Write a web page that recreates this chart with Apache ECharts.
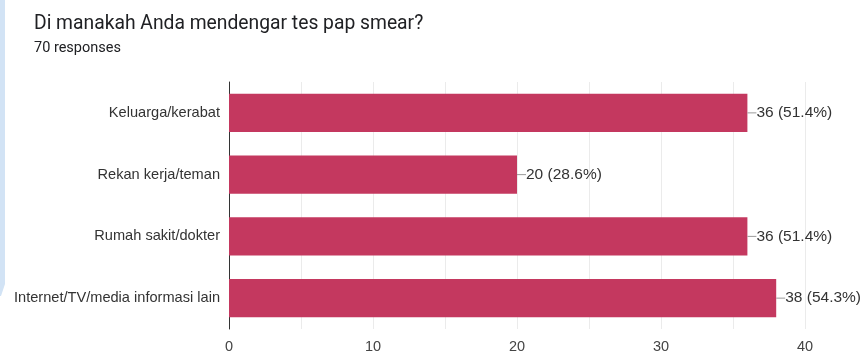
<!DOCTYPE html>
<html>
<head>
<meta charset="utf-8">
<script src="https://cdn.jsdelivr.net/npm/echarts@6/dist/echarts.min.js"></script>
<style>
  html, body { margin: 0; padding: 0; background: #fff; }
  #chart { width: 866px; height: 354px; }
</style>
</head>
<body>
<div id="chart"></div>
<script>
// data
const categories = ['Keluarga/kerabat', 'Rekan kerja/teman', 'Rumah sakit/dokter', 'Internet/TV/media informasi lain']
const counts = [36, 20, 36, 38]
const totalResponses = 70
const xTicks = [0, 10, 20, 30, 40]

const axisFont = '"Liberation Sans", Arial, sans-serif'

const myChart = echarts.init(document.getElementById('chart'))

const option = {
  animation: false,
  textStyle: { fontFamily: axisFont },
  title: {
    text: 'Di manakah Anda mendengar tes pap smear?',
    subtext: totalResponses + ' responses',
    left: 29,
    top: 10,
    itemGap: 7,
    textStyle: { fontSize: 19.3, fontWeight: 'normal', color: '#202124', fontFamily: 'Roboto' },
    subtextStyle: { fontSize: 14.5, color: '#202124', fontFamily: 'Roboto' }
  },
  graphic: [
    {
      type: 'polygon',
      shape: { points: [[0, 0], [5, 0], [5, 284], [1, 296], [0, 296]] },
      style: { fill: '#d2e3f5' }
    }
  ],
  grid: {
    left: 229,
    right: 61,
    top: 82,
    bottom: 24
  },
  xAxis: {
    type: 'value',
    min: 0,
    max: 40,
    interval: 5,
    axisLine: { show: false },
    axisTick: { show: false },
    axisLabel: {
      color: '#444',
      fontSize: 14.5,
      margin: 10,
      formatter: v => (xTicks.includes(v) ? String(v) : '')
    },
    splitLine: { lineStyle: { color: '#ebebeb', width: 1 } }
  },
  yAxis: {
    type: 'category',
    data: categories,
    inverse: true,
    axisLine: { lineStyle: { color: '#333', width: 1 } },
    axisTick: { show: false },
    axisLabel: { color: '#333', fontSize: 14.6, margin: 9 }
  },
  series: [
    {
      type: 'bar',
      data: counts,
      barCategoryGap: '38%',
      itemStyle: { color: '#c4385f' },
      label: {
        show: true,
        position: 'right',
        distance: 0,
        color: '#333',
        fontSize: 15.5,
        formatter: p => '{l|}{t|' + p.value + ' (' + (p.value / totalResponses * 100).toFixed(1) + '%)}',
        rich: {
          l: { width: 9, height: 1, backgroundColor: '#999' },
          t: { color: '#333', fontSize: 15.5, fontFamily: axisFont }
        }
      }
    }
  ]
}

myChart.setOption(option)
</script>
</body>
</html>
